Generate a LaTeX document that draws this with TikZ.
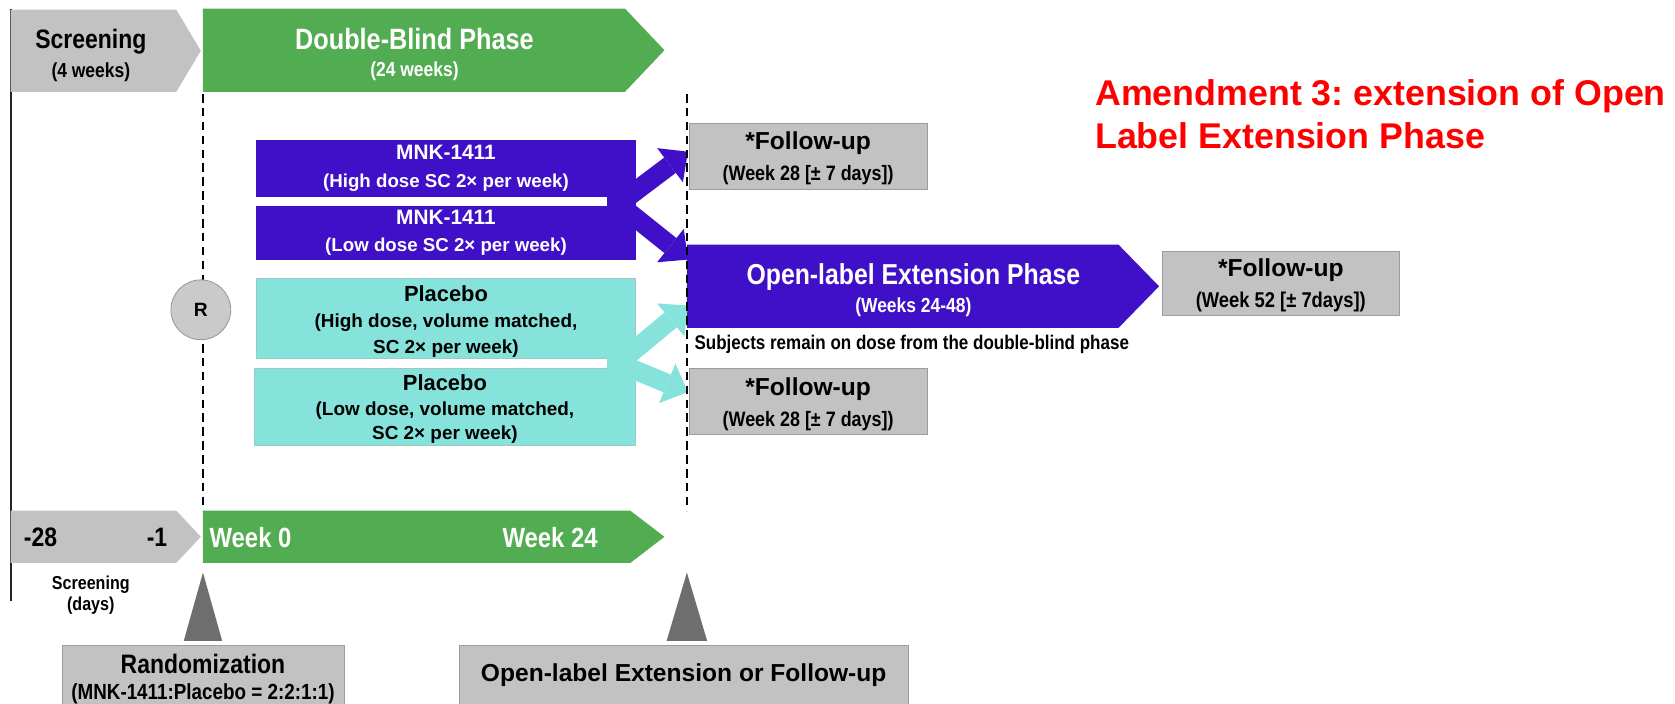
\documentclass[tikz,border=0pt]{standalone}
\usepackage{fontspec}
\setmainfont{Liberation Sans}
\newfontfamily\nf[FakeStretch=0.86]{Liberation Sans}
\usetikzlibrary{arrows.meta}
\definecolor{boxgray}{HTML}{C2C2C2}
\definecolor{edgegray}{HTML}{9C9C9C}
\definecolor{phgreen}{HTML}{52AC52}
\definecolor{drug}{HTML}{3F10C8}
\definecolor{plc}{HTML}{86E3DB}
\definecolor{plcedge}{HTML}{9CC9C4}
\definecolor{trigray}{HTML}{6E6E6E}
\definecolor{circgray}{HTML}{CACACA}
\definecolor{amred}{HTML}{FF0000}
\newcommand\fsz[2]{\fontsize{#1}{#2}\selectfont}
\frenchspacing
\begin{document}
\begin{tikzpicture}[x=1pt,y=-1pt,
  txt/.style={inner sep=0pt, align=center},
  gbox/.style={fill=boxgray, draw=edgegray, line width=0.8pt, inner sep=0pt, align=center},
  dbox/.style={fill=drug, text=white, inner sep=0pt, align=center},
  pbox/.style={fill=plc, draw=plcedge, line width=0.6pt, inner sep=0pt, align=center},
  darrow/.style={draw=drug, line width=18pt, -{Triangle[length=21pt,width=40pt,line width=0pt]}},
  parrow/.style={draw=plc, line width=18pt, -{Triangle[length=21pt,width=40pt,line width=0pt]}},
  vdash/.style={draw=black, line width=1.5pt, dash pattern=on 8pt off 5pt},
]
\useasboundingbox (0,0) rectangle (1568,659);

% left vertical line
\coordinate (vtop) at (10,8);
\coordinate (vbot) at (10,563);
\draw[line width=2pt, black!85] (vtop) -- (vbot);

% top phase bars
\fill[boxgray] (10,9) -- (165,9) -- (188,47.5) -- (165,86) -- (10,86) -- cycle;
\node[txt, font=\nf\bfseries\fsz{19}{27}] (scrtxt) at (85,52) {{\fsz{25}{27}Screening}\\(4 weeks)};
\fill[phgreen] (190,8) -- (585,8) -- (622,47) -- (585,86) -- (190,86) -- cycle;
\node[txt, text=white, font=\nf\bfseries\fsz{19}{25}] (dbtxt) at (388,51) {{\fsz{27.5}{25}Double-Blind Phase}\\(24 weeks)};

% treatment arms
\node[dbox, minimum width=355pt, minimum height=53pt, font=\bfseries\fsz{17.5}{26}] (mnkH) at (417.5,157.5)
  {{\fsz{19.5}{26}MNK-1411}\\(High dose SC 2× per week)};
\node[dbox, minimum width=355pt, minimum height=50pt, font=\bfseries\fsz{17.5}{25}] (mnkL) at (417.5,218)
  {{\fsz{19.5}{25}MNK-1411}\\(Low dose SC 2× per week)};
\node[pbox, minimum width=355pt, minimum height=74pt] (plcH) at (417.5,298) {};
\node[txt, font=\bfseries\fsz{17.7}{24.5}] (plcHtext) at (417.5,301)
  {{\fsz{20.5}{24.5}Placebo}\\(High dose, volume matched,\\SC 2× per week)};
\node[pbox, minimum width=357pt, minimum height=72pt] (plcL) at (416.5,381) {};
\node[txt, font=\bfseries\fsz{17.7}{23}] (plcLtext) at (416.5,383)
  {{\fsz{20.5}{23}Placebo}\\(Low dose, volume matched,\\SC 2× per week)};

% right side boxes
\node[gbox, minimum width=223pt, minimum height=61pt] (fuA) at (756.5,146.5) {};
\node[txt, font=\nf\bfseries\fsz{19.5}{29}] (fuAt) at (756.5,148.5)
  {{\fontspec{Liberation Sans}\bfseries\fsz{23}{29}*Follow-up}\\(Week 28 [± 7 days])};
\node[gbox, minimum width=223pt, minimum height=62pt] (fuC) at (756.5,376) {};
\node[txt, font=\nf\bfseries\fsz{19.5}{29}] (fuCt) at (756.5,378)
  {{\fontspec{Liberation Sans}\bfseries\fsz{23}{29}*Follow-up}\\(Week 28 [± 7 days])};
\fill[drug] (643,229) -- (1047,229) -- (1085,268) -- (1047,307) -- (643,307) -- cycle;
\node[txt, text=white, font=\nf\bfseries\fsz{19}{26}] (ole) at (855,271.5) {{\fsz{27}{26}Open-label Extension Phase}\\(Weeks 24-48)};
\node[gbox, minimum width=222pt, minimum height=60pt] (fuB) at (1199,265) {};
\node[txt, font=\nf\bfseries\fsz{20}{29}] (fuBt) at (1199,267.5)
  {{\fontspec{Liberation Sans}\bfseries\fsz{23}{29}*Follow-up}\\(Week 52 [± 7days])};
\node[txt, anchor=west, font=\nf\bfseries\fsz{18.5}{20}] (subj) at (650,322) {Subjects remain on dose from the double-blind phase};

% arrows
\coordinate (jd) at (579,191);
\coordinate (jp) at (579,340);
\coordinate (tA) at (644,142);
\coordinate (tB) at (644,243);
\coordinate (tC) at (644,286);
\coordinate (tD) at (644,367);
\fill[drug] (568,183) rectangle (595,194);
\fill[plc] (568,334) rectangle (595,346);
\draw[darrow] (jd) -- (tA);
\draw[darrow] (jd) -- (tB);
\draw[parrow] (jp) -- (tC);
\draw[parrow] (jp) -- (tD);

% dashed lines
\coordinate (dl1) at (190,88);
\coordinate (dl2) at (190,478);
\coordinate (dr1) at (643,88);
\coordinate (dr2) at (643,478);
\draw[vdash] (dl1) -- (dl2);
\draw[vdash] (dr1) -- (dr2);

% randomization circle
\node[circle, fill=circgray, draw=gray!80, line width=0.8pt, minimum size=56pt, inner sep=0pt, font=\bfseries\fsz{18}{20}] (R) at (188,290) {R};

% bottom timeline
\fill[boxgray] (10,478) -- (165,478) -- (188,502.5) -- (165,527) -- (10,527) -- cycle;
\fill[phgreen] (190,478) -- (590,478) -- (622,502.5) -- (590,527) -- (190,527) -- cycle;
\node[txt, font=\nf\bfseries\fsz{25}{27}] (m28) at (38,503) {-28};
\node[txt, font=\nf\bfseries\fsz{25}{27}] (m1) at (147,503) {-1};
\node[txt, text=white, anchor=west, font=\nf\bfseries\fsz{26}{27}] (w0) at (196,503) {Week 0};
\node[txt, text=white, font=\nf\bfseries\fsz{26}{27}] (w24) at (515,503) {Week 24};
\node[txt, font=\nf\bfseries\fsz{17.5}{20}] (scrd) at (85,557) {Screening\\(days)};

% pointers
\fill[trigray] (190,536) -- (208,600) -- (172,600) -- cycle;
\fill[trigray] (643,536) -- (662,600) -- (624,600) -- cycle;

\node[gbox, minimum width=264pt, minimum height=56pt] (rand) at (190,632) {};
\node[txt, font=\nf\bfseries\fsz{20.5}{24}] (randt) at (190,636)
  {{\fsz{25}{24}Randomization}\\(MNK-1411:Placebo = 2:2:1:1)};
\node[gbox, minimum width=420pt, minimum height=56pt, font=\bfseries\fsz{23}{26}] (olef) at (640,632)
  {Open-label Extension or Follow-up};

% amendment note
\node[inner sep=0pt, anchor=north west, align=left, text=amred, font=\bfseries\fsz{33.5}{40}] (amend) at (1025,74.5)
  {Amendment 3: extension of Open\\Label Extension Phase};
\end{tikzpicture}
\end{document}
